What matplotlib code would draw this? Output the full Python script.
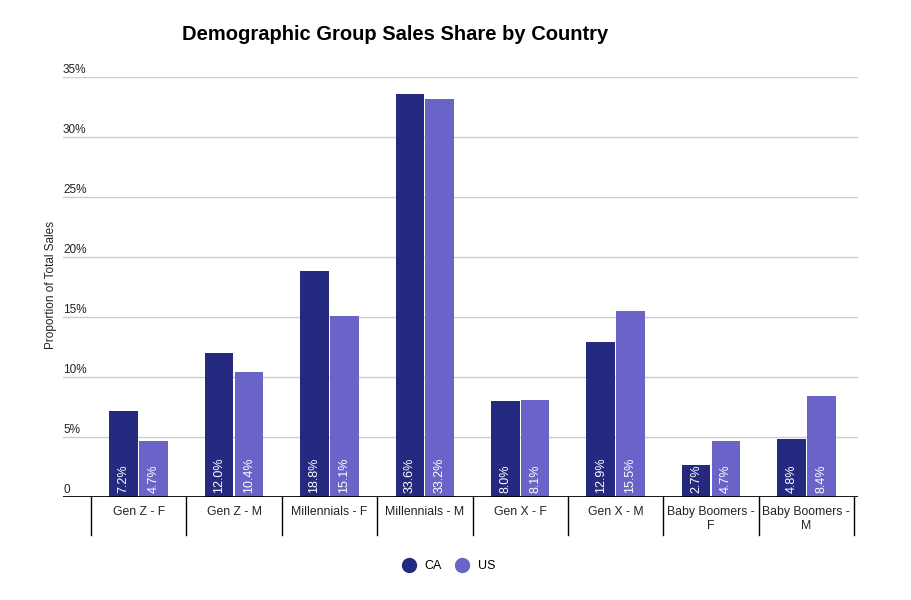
import numpy as np
import matplotlib
matplotlib.use("Agg")
import matplotlib.pyplot as plt
from matplotlib.lines import Line2D
import matplotlib.transforms as mtransforms

plt.rcParams['font.family'] = ['Liberation Sans', 'DejaVu Sans']

categories = ["Gen Z - F", "Gen Z - M", "Millennials - F", "Millennials - M",
              "Gen X - F", "Gen X - M", "Baby Boomers -\nF", "Baby Boomers -\nM"]
ca_values = [7.2, 12.0, 18.8, 33.6, 8.0, 12.9, 2.7, 4.8]
us_values = [4.7, 10.4, 15.1, 33.2, 8.1, 15.5, 4.7, 8.4]
y_ticks = [0, 5, 10, 15, 20, 25, 30, 35]
y_tick_labels = ["0", "5%", "10%", "15%", "20%", "25%", "30%", "35%"]

ca_color = "#252a80"
us_color = "#6a63c8"

fig = plt.figure(figsize=(9.12, 6), dpi=100)
ax = fig.add_axes([63/912, 103/600, 795/912, 420/600])

x = np.arange(len(categories))
off = 0.157
w = 0.30
ax.bar(x - off, ca_values, width=w, color=ca_color, zorder=3)
ax.bar(x + off, us_values, width=w, color=us_color, zorder=3)

# value labels inside bars
for i in range(len(categories)):
    ax.text(x[i] - off, 0.35, "%.1f%%" % ca_values[i], rotation=90, color="white",
            ha="center", va="bottom", fontsize=9, zorder=4)
    ax.text(x[i] + off, 0.35, "%.1f%%" % us_values[i], rotation=90, color="white",
            ha="center", va="bottom", fontsize=9, zorder=4)

ax.set_xlim(-0.794, 7.542)
ax.set_ylim(0, 35)
for s in ax.spines.values():
    s.set_visible(False)
ax.set_xticks([])
ax.set_yticks([])

# gridlines
for t in y_ticks[1:]:
    ax.axhline(t, color="#cccccc", lw=1, zorder=1)
ax.axhline(0, color="black", lw=2, zorder=5)

# y tick labels above gridlines
trans = mtransforms.blended_transform_factory(ax.transAxes, ax.transData)
for t, lab in zip(y_ticks, y_tick_labels):
    ax.text(0.0, t + 0.12, lab, transform=trans, ha="left", va="bottom",
            fontsize=8.5, color="#222222")

# category separators and labels
trans2 = mtransforms.blended_transform_factory(ax.transData, ax.transAxes)
for i in range(len(categories) + 1):
    ax.plot([i - 0.5, i - 0.5], [0, -38/420], color="black", lw=1,
            transform=trans2, clip_on=False)
for i, c in enumerate(categories):
    ax.text(i, -9/420, c, transform=trans2, ha="center", va="top",
            fontsize=8.8, color="#222222", linespacing=1.25)

fig.text(51/912, 1 - 285/600, "Proportion of Total Sales", rotation=90,
         ha="center", va="center", fontsize=8.5, color="#222222")

fig.text(395/912, 1 - 35/600, "Demographic Group Sales Share by Country",
         ha="center", va="center", fontsize=14.5, fontweight="bold")

handles = [Line2D([], [], marker="o", ls="", markersize=10, color=ca_color),
           Line2D([], [], marker="o", ls="", markersize=10, color=us_color)]
fig.legend(handles, ["CA", "US"], loc="center", bbox_to_anchor=(446/912, 1 - 566/600),
           ncol=2, frameon=False, fontsize=9, handletextpad=0.3, columnspacing=0.6)

fig.savefig("out.png", dpi=100)
